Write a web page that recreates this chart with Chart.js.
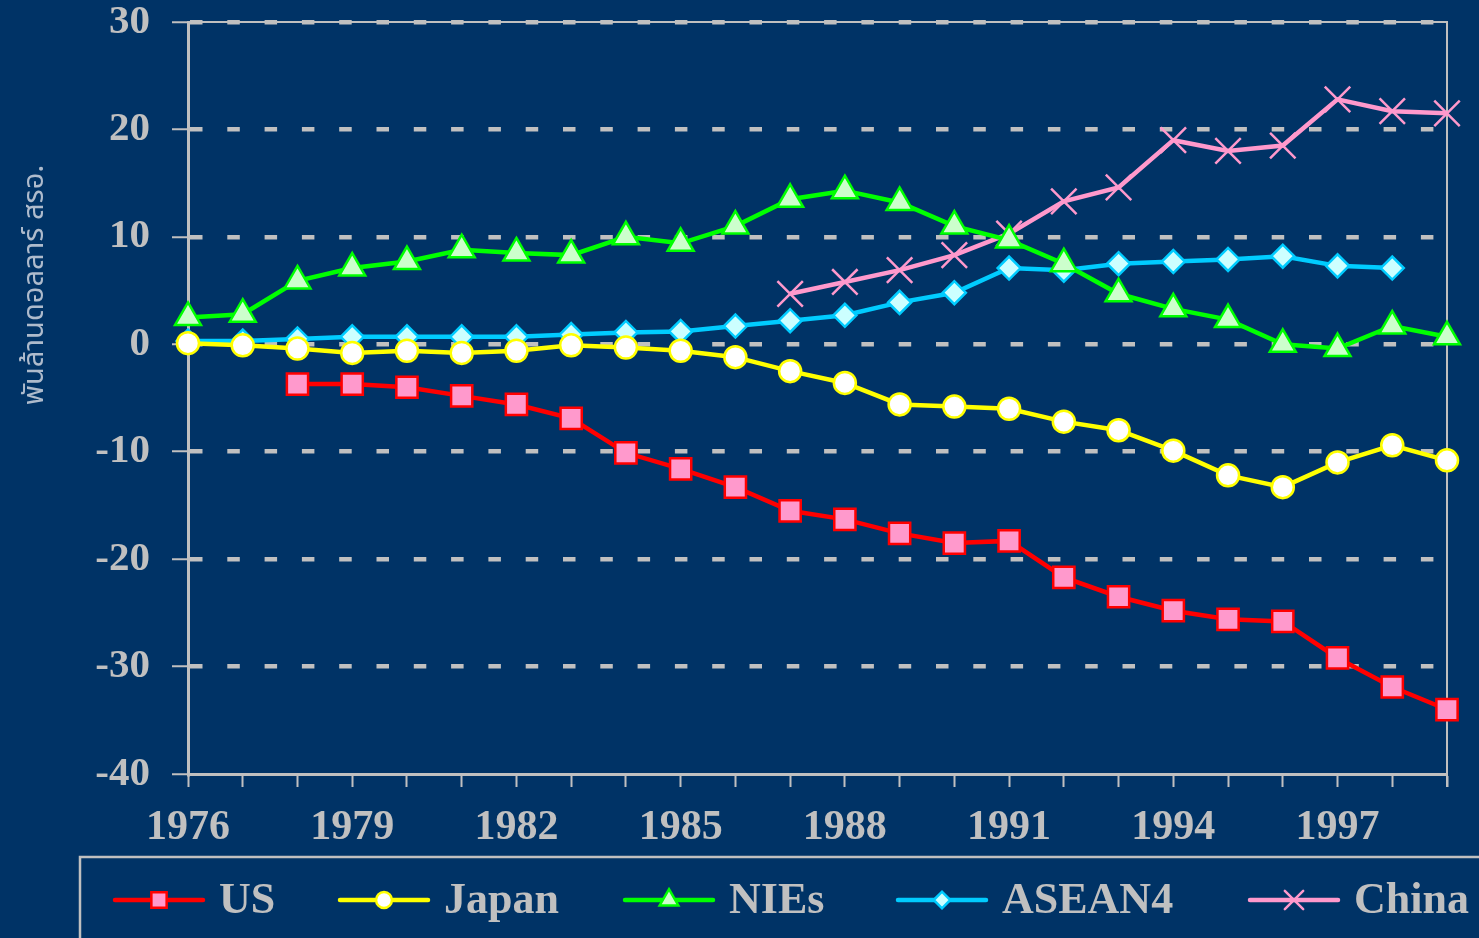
<!DOCTYPE html>
<html lang="th">
<head>
    <meta charset="UTF-8">
    <title>Trade balance 1976-1999</title>
    <style>
        html, body { margin: 0; padding: 0; background: #003366; }
        #wrap { width: 1479px; height: 938px; position: relative; }
    </style>
</head>
<body>
    <div id="wrap"><canvas id="balanceChart"></canvas></div>

    <script src="https://cdn.jsdelivr.net/npm/chart.js@4.4.1/dist/chart.umd.min.js"></script>
    <script>
        // data (พันล้านดอลลาร์ สรอ.)
        var years = ["1976","1977","1978","1979","1980","1981","1982","1983","1984","1985","1986","1987",
                     "1988","1989","1990","1991","1992","1993","1994","1995","1996","1997","1998","1999"];
        var usData     = [null, null, -3.7, -3.7, -4.0, -4.8, -5.6, -6.9, -10.1, -11.6, -13.3, -15.5,
                          -16.3, -17.6, -18.5, -18.3, -21.7, -23.5, -24.8, -25.6, -25.8, -29.2, -31.9, -34.0];
        var japanData  = [0.1, -0.1, -0.4, -0.8, -0.6, -0.8, -0.6, -0.1, -0.3, -0.6, -1.2, -2.5,
                          -3.6, -5.6, -5.8, -6.0, -7.2, -8.0, -9.9, -12.2, -13.3, -11.0, -9.4, -10.8];
        var niesData   = [2.5, 2.8, 5.9, 7.1, 7.7, 8.8, 8.5, 8.3, 10.0, 9.4, 11.0, 13.5,
                          14.3, 13.2, 11.0, 9.7, 7.5, 4.7, 3.3, 2.3, 0.0, -0.4, 1.7, 0.7];
        var aseanData  = [0.3, 0.3, 0.5, 0.7, 0.7, 0.7, 0.7, 0.9, 1.1, 1.2, 1.7, 2.2,
                          2.7, 3.9, 4.8, 7.1, 6.9, 7.5, 7.7, 7.9, 8.2, 7.3, 7.1, null];
        var chinaData  = [null, null, null, null, null, null, null, null, null, null, null, 4.7,
                          5.8, 6.9, 8.3, 10.3, 13.3, 14.6, 19.0, 18.0, 18.5, 22.8, 21.7, 21.5];
        var seriesNames = ["US", "Japan", "NIEs", "ASEAN4", "China"];
        var yTitle = "พันล้านดอลลาร์ สรอ.";

        var GRAY = "#C0C0C0";
        var SERIF = "'Liberation Serif', 'Times New Roman', serif";

        // draw top and right frame of the plot
        var frame = {
            id: "frame",
            beforeDatasetsDraw: function(chart) {
                var a = chart.chartArea, ctx = chart.ctx;
                ctx.save();
                ctx.strokeStyle = GRAY;
                ctx.lineWidth = 2;
                ctx.beginPath();
                ctx.moveTo(a.left, a.top);
                ctx.lineTo(a.right, a.top);
                ctx.lineTo(a.right, a.bottom + 13);
                ctx.stroke();
                ctx.restore();
            }
        };

        // rotated thai unit label on the left
        var unitTitle = {
            id: "unitTitle",
            afterDraw: function(chart) {
                var ctx = chart.ctx;
                ctx.save();
                ctx.translate(37, 285);
                ctx.rotate(-Math.PI / 2);
                ctx.fillStyle = "#AEBBCC";
                ctx.font = "29px 'Noto Sans Thai', 'Tahoma', 'DejaVu Sans', sans-serif";
                ctx.textAlign = "center";
                ctx.textBaseline = "middle";
                ctx.fillText(yTitle, 0, 0);
                ctx.restore();
            }
        };

        // boxed legend along the bottom, line + marker like the original
        var boxLegend = {
            id: "boxLegend",
            afterDraw: function(chart, args, opts) {
                var ctx = chart.ctx;
                ctx.save();
                ctx.strokeStyle = GRAY;
                ctx.lineWidth = 2.5;
                ctx.strokeRect(80, 857, 1500, 200);
                chart.data.datasets.forEach(function(ds, i) {
                    var x = opts.xs[i], y = opts.y;
                    ctx.strokeStyle = ds.borderColor;
                    ctx.lineWidth = ds.borderWidth;
                    ctx.lineCap = "round";
                    ctx.beginPath();
                    ctx.moveTo(x, y);
                    ctx.lineTo(x + 88, y);
                    ctx.stroke();
                    ctx.fillStyle = ds.pointBackgroundColor;
                    ctx.strokeStyle = ds.pointBorderColor;
                    ctx.lineWidth = ds.pointBorderWidth;
                    Chart.helpers.drawPoint(ctx, {
                        pointStyle: ds.pointStyle,
                        radius: ds.pointRadius * 0.72,
                        rotation: 0,
                        borderWidth: ds.pointBorderWidth
                    }, x + 44, y);
                    ctx.fillStyle = GRAY;
                    ctx.font = "bold 44px " + SERIF;
                    ctx.textAlign = "left";
                    ctx.textBaseline = "middle";
                    ctx.fillText(ds.label, x + 104, y + 2);
                });
                ctx.restore();
            }
        };

        function series(name, values, line, fill, style, radius) {
            return {
                label: name,
                data: values,
                borderColor: line,
                borderWidth: 4.5,
                pointStyle: style,
                pointRadius: radius,
                pointHoverRadius: radius,
                pointBackgroundColor: fill,
                pointBorderColor: line,
                pointBorderWidth: 2.5,
                tension: 0,
                clip: false
            };
        }

        var ctx = document.getElementById("balanceChart").getContext("2d");
        var balanceChart = new Chart(ctx, {
            type: "line",
            data: {
                labels: years,
                datasets: [
                    series(seriesNames[0], usData, "#FF0000", "#FF99CC", "rect", 15),
                    series(seriesNames[1], japanData, "#FFFF00", "#FFFFFF", "circle", 11),
                    series(seriesNames[2], niesData, "#00FF00", "#CCFFCC", "triangle", 15),
                    series(seriesNames[3], aseanData, "#00CCFF", "#CCFFFF", "rectRot", 11.5),
                    series(seriesNames[4], chinaData, "#FF99CC", "#FF99CC", "crossRot", 18)
                ]
            },
            options: {
                responsive: true,
                maintainAspectRatio: false,
                animation: false,
                layout: { padding: { top: 22, right: 32, left: 0, bottom: 0 } },
                plugins: {
                    legend: { display: false },
                    tooltip: { enabled: false },
                    boxLegend: { xs: [115, 340, 625, 898, 1250], y: 900 }
                },
                scales: {
                    x: {
                        type: "category",
                        offset: false,
                        grid: {
                            drawOnChartArea: false,
                            drawTicks: true,
                            tickLength: 13,
                            tickColor: GRAY,
                            tickWidth: 2,
                            color: GRAY
                        },
                        border: { color: GRAY, width: 3 },
                        ticks: {
                            autoSkip: false,
                            maxRotation: 0,
                            padding: 16,
                            color: GRAY,
                            font: { family: SERIF, size: 42, weight: "bold" },
                            callback: function(val, i) {
                                return i % 3 === 0 ? this.getLabelForValue(val) : "";
                            }
                        },
                        afterFit: function(s) { s.height = 164; }
                    },
                    y: {
                        min: -40,
                        max: 30,
                        grid: {
                            color: function(c) { return c.tick && c.tick.value === -40 ? "rgba(0,0,0,0)" : GRAY; },
                            lineWidth: 4.5,
                            drawTicks: true,
                            tickLength: 16,
                            tickColor: GRAY,
                            tickWidth: 2,
                            tickBorderDash: []
                        },
                        border: { color: GRAY, width: 3, dash: [12.5, 24.8] },
                        ticks: {
                            stepSize: 10,
                            padding: 22,
                            color: GRAY,
                            font: { family: SERIF, size: 41, weight: "bold" }
                        },
                        afterFit: function(s) {
                            s.width = 188;
                            s.paddingTop = 0;
                            s.paddingBottom = 0;
                        }
                    }
                }
            },
            plugins: [frame, unitTitle, boxLegend]
        });
    </script>
</body>
</html>
